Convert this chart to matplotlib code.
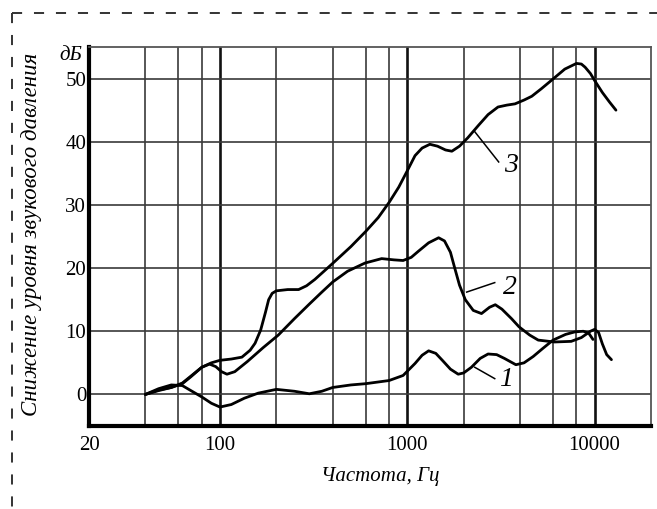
import matplotlib
matplotlib.use("Agg")
import matplotlib.pyplot as plt
from matplotlib.lines import Line2D

plt.rcParams['font.family'] = ['Liberation Serif', 'DejaVu Serif']

# ---- data ----
f1 = [40, 47, 55, 63, 70, 80, 90, 100, 115, 135, 160, 200, 250, 300, 350, 400, 500, 600, 800, 950,
      1100, 1200, 1300, 1420, 1550, 1700, 1870, 2000, 2200, 2450, 2700, 3000, 3300, 3800, 4200,
      4700, 5300, 6000, 7000, 7850, 8700, 9300, 9800]
db1 = [0, 0.9, 1.5, 1.4, 0.6, -0.4, -1.4, -2.0, -1.6, -0.6, 0.2, 0.8, 0.5, 0.1, 0.5, 1.1, 1.5, 1.7, 2.2, 3.0,
       4.9, 6.2, 6.9, 6.5, 5.3, 4.0, 3.2, 3.4, 4.3, 5.7, 6.4, 6.3, 5.7, 4.7, 5.0,
       6.0, 7.3, 8.6, 9.5, 9.9, 10.0, 9.7, 8.7]

f2 = [40, 47, 55, 63, 70, 80, 88, 95, 102, 109, 120, 140, 170, 205, 250, 300, 350, 400, 480, 595,
      730, 850, 950, 1050, 1150, 1300, 1470, 1580, 1700, 1800, 1900, 2040, 2250, 2490, 2750, 2950,
      3200, 3600, 3950, 4500, 5000, 6100, 7500, 8500, 9500, 10000, 10500, 11000, 11600, 12300]
db2 = [0, 0.7, 1.1, 1.7, 2.8, 4.3, 4.8, 4.4, 3.6, 3.2, 3.6, 5.2, 7.4, 9.4, 12.0, 14.3, 16.2, 17.8, 19.5, 20.8,
       21.5, 21.3, 21.2, 21.7, 22.7, 24.0, 24.8, 24.3, 22.5, 19.8, 17.3, 15.0, 13.3, 12.8, 13.8, 14.2,
       13.5, 12.0, 10.7, 9.4, 8.6, 8.3, 8.4, 9.0, 10.0, 10.3, 9.8, 8.0, 6.3, 5.5]

f3 = [40, 47, 55, 63, 70, 80, 90, 100, 115, 131, 145, 154, 165, 175, 182, 190, 200, 230, 263, 290,
      321, 395, 500, 600, 700, 800, 900, 1000, 1100, 1200, 1320, 1450, 1600, 1730, 1900, 2100,
      2400, 2700, 3050, 3400, 3760, 4200, 4620, 5200, 5870, 6930, 8000, 8500, 8900, 9500, 10000,
      11000, 12000, 13000]
db3 = [0, 0.6, 1.1, 1.8, 2.9, 4.3, 5.0, 5.4, 5.6, 5.9, 7.0, 8.1, 10.2, 13.0, 15.0, 16.0, 16.4, 16.6, 16.6, 17.2,
       18.2, 20.6, 23.4, 25.8, 28.0, 30.4, 32.8, 35.4, 37.8, 39.0, 39.6, 39.3, 38.7, 38.5, 39.3, 40.6,
       42.6, 44.3, 45.5, 45.8, 46.0, 46.6, 47.2, 48.4, 49.7, 51.5, 52.4, 52.3, 51.8, 50.8, 49.7,
       47.8, 46.3, 45.0]

curve_labels = ['1', '2', '3']
x_ticks = [20, 100, 1000, 10000]
x_tick_labels = ['20', '100', '1000', '10000']
x_grid = [40, 60, 80, 200, 400, 600, 800, 2000, 4000, 6000, 8000]
x_grid_major = [100, 1000, 10000]
y_ticks = [0, 10, 20, 30, 40, 50]

fig = plt.figure(figsize=(6.57, 5.09), dpi=100)
ax = fig.add_axes([89/657, 1-426/509, (651-89)/657, (426-47)/509])
ax.set_xscale('log')
ax.set_xlim(20, 20000)
ax.set_ylim(-5, 55)

gcol = '#3a3a3a'
for xv in x_grid:
    ax.axvline(xv, color=gcol, lw=1.2, zorder=1)
for xv in x_grid_major:
    ax.axvline(xv, color='#111111', lw=1.9, zorder=1)
for yv in y_ticks:
    ax.axhline(yv, color=gcol, lw=1.2, zorder=1)

for f, d in ((f1, db1), (f2, db2), (f3, db3)):
    ax.plot(f, d, color='black', lw=2.0, solid_joinstyle='round', solid_capstyle='round', zorder=3)

ax.set_xticks(x_ticks)
ax.set_xticklabels(x_tick_labels)
ax.xaxis.set_minor_locator(matplotlib.ticker.NullLocator())
ax.set_yticks(y_ticks)
ax.tick_params(axis='both', length=0, labelsize=15)
ax.tick_params(axis='x', pad=7)
ax.tick_params(axis='y', pad=2)

for s in ('left', 'bottom'):
    ax.spines[s].set_linewidth(3.0)
    ax.spines[s].set_color('black')
for s in ('top', 'right'):
    ax.spines[s].set_linewidth(1.3)
    ax.spines[s].set_color('#555555')

ax.set_xlabel('Частота, Гц', fontsize=15, style='italic')
ax.xaxis.set_label_coords((380-89)/562, -(467-426)/379)
fig.text(32/657, 1-234/509, 'Снижение уровня звукового давления', rotation=90,
         ha='center', va='center', fontsize=16.5, style='italic')

ax.text(-0.012, (426-56)/379, 'дБ', transform=ax.transAxes, ha='right', va='center',
        fontsize=15, style='italic')

# curve labels with leader lines
ax.plot([2291, 3076], [41.6, 36.8], color='black', lw=1.1, zorder=3)
ax.text(3300, 36.3, curve_labels[2], fontsize=20, style='italic', ha='left', va='center')
ax.plot([2075, 2930], [16.2, 17.7], color='black', lw=1.1, zorder=3)
ax.text(3250, 17.0, curve_labels[1], fontsize=20, style='italic', ha='left', va='center')
ax.plot([2291, 2930], [4.3, 2.5], color='black', lw=1.1, zorder=3)
ax.text(3100, 2.4, curve_labels[0], fontsize=20, style='italic', ha='left', va='center')

# dashed frame (top and left)
dash = (0, (5.2, 6.1))
fig.add_artist(Line2D([12/657, 1.0], [1-13/509, 1-13/509], transform=fig.transFigure,
                      color='#333333', lw=1.4, linestyle=dash))
fig.add_artist(Line2D([12/657, 12/657], [1-13/509, 0.0], transform=fig.transFigure,
                      color='#333333', lw=1.4, linestyle=dash))

fig.savefig('out.png', dpi=100)
